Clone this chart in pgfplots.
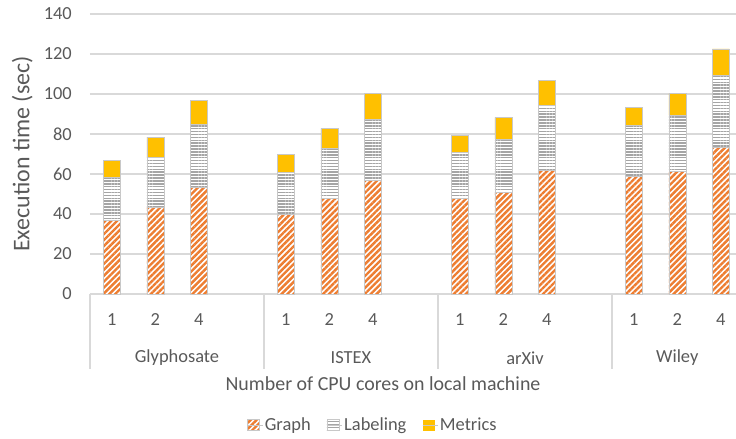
\documentclass[border=0pt]{standalone}
\usepackage{fontspec}
\setmainfont{Carlito}
\usepackage{pgfplots}
\pgfplotsset{compat=1.18}
\usetikzlibrary{patterns.meta}

\definecolor{txt}{HTML}{595959}
\definecolor{graphc}{HTML}{ED7D31}
\definecolor{labc}{HTML}{A5A5A5}
\definecolor{metc}{HTML}{FFC000}
\definecolor{gridc}{HTML}{D9D9D9}
\definecolor{edgec}{HTML}{C8C8C8}

\begin{document}
\begin{tikzpicture}[font=\fontsize{18.5}{20}\selectfont]
\begin{axis}[
    at={(0,0)}, anchor=south west,
    scale only axis,
    width=646bp, height=280bp,
    ybar stacked,
    bar width=17bp,
    xmin=-0.5, xmax=14.35,
    ymin=0, ymax=140,
    ytick={0,20,...,140},
    xtick={0,1,2,4,5,6,8,9,10,12,13,14},
    xticklabels={1,2,4,1,2,4,1,2,4,1,2,4},
    major tick length=0pt,
    axis line style={draw=none},
    ymajorgrids=true,
    grid style={gridc, line width=1.3bp},
    tick label style={text=txt},
    yticklabel style={anchor=east, inner sep=0pt, xshift=-18bp},
    xticklabel style={anchor=center, yshift=-26bp},
    /pgf/number format/assume math mode=true,
    ylabel={Execution time (sec)},
    ylabel style={at={(axis description cs:-0.105,0.5)}, anchor=center,
        font=\fontsize{24}{26}\selectfont, text=txt},
    xlabel={Number of CPU cores on local machine},
    xlabel style={at={(axis description cs:0.4536,-0.321)}, anchor=center,
        font=\fontsize{20}{22}\selectfont, text=txt},
    legend columns=3,
    legend style={at={(axis description cs:0.438,-0.468)}, anchor=center,
        draw=none, fill=none, text=txt,
        /tikz/every even column/.append style={column sep=14bp}},
    legend image code/.code={%
        \draw[#1, draw=none] (0bp,-5.5bp) rectangle (12bp,5.5bp);
        \path (0bp,0bp) -- (15bp,0bp);},
    clip=false,
]
% Graph
\addplot+[fill=white, draw=edgec, line width=0.5bp,
    postaction={pattern={Lines[angle=45,distance=4.2bp,line width=2.4bp]}, pattern color=graphc}]
    coordinates {(0,37) (1,43.5) (2,53.2) (4,40) (5,47.7) (6,57)
                 (8,47.8) (9,50.7) (10,62) (12,58.7) (13,61.5) (14,73.3)};
% Labeling
\addplot+[fill=white, draw=edgec, line width=0.5bp,
    postaction={pattern={Lines[angle=0,distance=2.9bp,line width=1.5bp]}, pattern color=labc}]
    coordinates {(0,21.5) (1,24.7) (2,31.8) (4,20.7) (5,25.1) (6,30.3)
                 (8,23) (9,26.8) (10,32.5) (12,25.6) (13,27.8) (14,36.2)};
% Metrics
\addplot+[fill=metc, draw=edgec, line width=0.5bp]
    coordinates {(0,8.3) (1,10.3) (2,12) (4,9.3) (5,10) (6,13)
                 (8,8.7) (9,10.8) (10,12.5) (12,9.2) (13,10.9) (14,13)};
\legend{Graph,Labeling,Metrics}

% category boxes below the axis
\draw[gridc, line width=1.3bp] (axis cs:-0.5,0) -- ([yshift=-75bp]axis cs:-0.5,0);
\draw[gridc, line width=1.3bp] (axis cs:3.5,0) -- ([yshift=-75bp]axis cs:3.5,0);
\draw[gridc, line width=1.3bp] (axis cs:7.5,0) -- ([yshift=-75bp]axis cs:7.5,0);
\draw[gridc, line width=1.3bp] (axis cs:11.5,0) -- ([yshift=-75bp]axis cs:11.5,0);
\node[text=txt] at ([yshift=-64bp]axis cs:1.5,0) {Glyphosate};
\node[text=txt] at ([yshift=-64bp]axis cs:5.5,0) {ISTEX};
\node[text=txt] at ([yshift=-64bp]axis cs:9.5,0) {arXiv};
\node[text=txt] at ([yshift=-64bp]axis cs:13,0) {Wiley};
\end{axis}
\pgfresetboundingbox
\path (-90bp,-145bp) rectangle (646bp,294bp);
\end{tikzpicture}
\end{document}
